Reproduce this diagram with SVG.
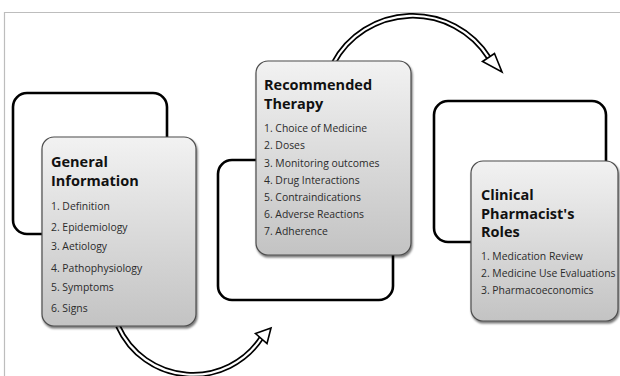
<svg xmlns="http://www.w3.org/2000/svg" width="620" height="376" viewBox="0 0 620 376">
  <defs>
    <linearGradient id="cardFill" x1="0" y1="0" x2="0" y2="1">
      <stop offset="0" stop-color="#f2f2f2"/>
      <stop offset="1" stop-color="#c3c3c3"/>
    </linearGradient>
    <filter id="cardShadow" x="-10%" y="-10%" width="125%" height="125%">
      <feDropShadow dx="1" dy="2" stdDeviation="1.3" flood-color="#000" flood-opacity="0.55"/>
    </filter>
    <style>
      .frame { stroke: #bdbdbd; stroke-width: 1.2; fill: none; }
      .outline { fill: none; stroke: #000; stroke-width: 2.6; }
      .card { fill: url(#cardFill); stroke: #4d4d4d; stroke-width: 1.2; filter: url(#cardShadow); }
      .title { font-family: "Open Sans", "Liberation Sans", sans-serif; font-weight: 700; font-size: 14.5px; fill: #111; }
      .item { font-family: "Open Sans", "Liberation Sans", sans-serif; font-size: 10.4px; fill: #2b2b2b; }
      .shaft-out { fill: none; stroke: #000; stroke-width: 5.6; }
      .shaft-in { fill: none; stroke: #fff; stroke-width: 2.2; }
      .head { fill: #fff; stroke: #000; stroke-width: 1.6; stroke-linejoin: miter; }
    </style>
  </defs>

  <rect width="620" height="376" fill="#fff"/>
  <!-- page frame -->
  <path class="frame" d="M4.5 376 V12.5 H620"/>

  <!-- back outlines -->
  <g id="outlines">
    <rect id="outline-general" class="outline" x="13" y="93" width="154" height="141" rx="14"/>
    <rect id="outline-therapy" class="outline" x="218" y="160" width="175" height="140" rx="14"/>
    <rect id="outline-roles" class="outline" x="434" y="101" width="172" height="141" rx="14"/>
  </g>

  <!-- curved hollow arrows -->
  <g id="connectors">
    <g id="arrow-top">
      <path class="shaft-out" d="M333 64 A90 90 0 0 1 489 58"/>
      <path class="shaft-in" d="M333 64 A90 90 0 0 1 489 58"/>
      <polygon class="head" points="494.5,53.5 502,72 482.5,61.5"/>
    </g>
    <g id="arrow-bottom">
      <path class="shaft-out" d="M118 326 A82 82 0 0 0 262 337"/>
      <path class="shaft-in" d="M118 326 A82 82 0 0 0 262 337"/>
      <polygon class="head" points="255.5,333.5 271,328 267,343.5"/>
    </g>
  </g>

  <!-- cards -->
  <g id="node-general">
    <rect class="card" x="42" y="137" width="154" height="189" rx="12"/>
    <text class="title" x="51" y="167">General</text>
    <text class="title" x="51" y="186">Information</text>
    <text class="item" x="51" y="210">1. Definition</text>
    <text class="item" x="51" y="230.5">2. Epidemiology</text>
    <text class="item" x="51" y="250">3. Aetiology</text>
    <text class="item" x="51" y="272">4. Pathophysiology</text>
    <text class="item" x="51" y="291">5. Symptoms</text>
    <text class="item" x="51" y="312">6. Signs</text>
  </g>

  <g id="node-therapy">
    <rect class="card" x="256" y="61" width="155" height="194" rx="12"/>
    <text class="title" x="264" y="90">Recommended</text>
    <text class="title" x="264" y="109">Therapy</text>
    <text class="item" x="264" y="132">1. Choice of Medicine</text>
    <text class="item" x="264" y="149">2. Doses</text>
    <text class="item" x="264" y="167">3. Monitoring outcomes</text>
    <text class="item" x="264" y="184">4. Drug Interactions</text>
    <text class="item" x="264" y="201">5. Contraindications</text>
    <text class="item" x="264" y="218">6. Adverse Reactions</text>
    <text class="item" x="264" y="235">7. Adherence</text>
  </g>

  <g id="node-roles">
    <rect class="card" x="471" y="161" width="147" height="160" rx="12"/>
    <text class="title" x="481" y="200">Clinical</text>
    <text class="title" x="481" y="219">Pharmacist's</text>
    <text class="title" x="481" y="237">Roles</text>
    <text class="item" x="481" y="260">1. Medication Review</text>
    <text class="item" x="481" y="277">2. Medicine Use Evaluations</text>
    <text class="item" x="481" y="294">3. Pharmacoeconomics</text>
  </g>
</svg>
